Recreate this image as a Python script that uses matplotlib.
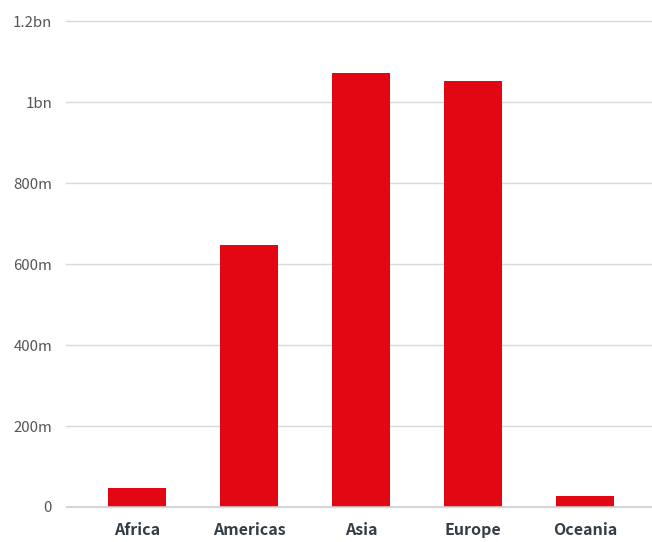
import matplotlib
matplotlib.use("Agg")
import matplotlib.pyplot as plt
from matplotlib.ticker import FixedLocator

categories = ["Africa", "Americas", "Asia", "Europe", "Oceania"]
values = [47e6, 648e6, 1073e6, 1053e6, 27e6]
yticks = [0, 200e6, 400e6, 600e6, 800e6, 1000e6, 1200e6]
ytick_labels = ["0", "200m", "400m", "600m", "800m", "1bn", "1.2bn"]

plt.rcParams['font.family'] = ['Noto Sans CJK KR', 'DejaVu Sans']

W, H = 652, 542
fig = plt.figure(figsize=(W/100, H/100), dpi=100)
left, right, top, bottom = 66, 652, 21.5, 507
ax = fig.add_axes([left/W, 1 - bottom/H, (right-left)/W, (bottom-top)/H])

x = list(range(len(categories)))
ax.bar(x, values, width=0.51, color="#E30613", zorder=3)
ax.set_xlim((66-137)/112, (652-137)/112)
ax.set_ylim(0, 1.2e9)
ax.yaxis.set_major_locator(FixedLocator(yticks))
ax.set_yticklabels(ytick_labels, fontsize=10.8, color="#555555", fontweight="light")
ax.set_xticks(x)
ax.set_xticklabels(categories, fontsize=11.5, color="#333d47", fontweight="bold")
ax.tick_params(axis="y", length=0, pad=10)
ax.tick_params(axis="x", length=0, pad=11)
ax.grid(axis="y", color="#d9d9d9", linewidth=1, zorder=0)
for gl in ax.get_ygridlines():
    gl.set_clip_on(False)
for s in ax.spines.values():
    s.set_visible(False)
ax.axhline(0, color="#cccccc", linewidth=1.2, zorder=4)

fig.savefig("out.png", dpi=100)
